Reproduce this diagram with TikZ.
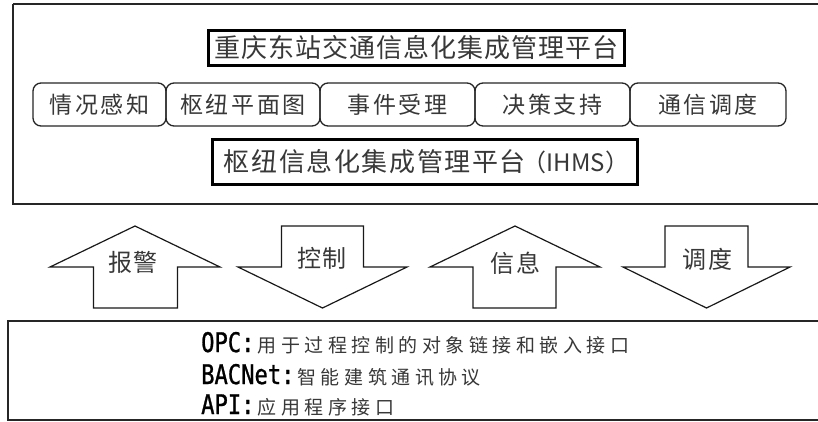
\documentclass[tikz,border=0pt]{standalone}
\usepackage{fontspec}
\newfontfamily\cjk{Noto Sans CJK SC}
\newfontfamily\monof{DejaVu Sans Mono}[FakeStretch=0.82,FakeBold=1]
\definecolor{txt}{gray}{0.22}
\makeatletter
\newcommand\spcd[2]{\@tfor\spcch:=#2\do{\spcch\kern#1}\unkern}
\makeatother
\begin{document}
\begin{tikzpicture}[x=1pt,y=-1pt,
  frame/.style={draw=black!85,line width=1.6pt},
  thickbox/.style={draw=black,line width=3pt,inner sep=0pt,text=txt},
  rowbox/.style={draw=black!85,line width=1.3pt,rounded corners=8pt,inner sep=0pt,
     minimum height=43pt,text=txt,font=\cjk\fontsize{23}{23}\selectfont},
  arrowline/.style={draw=black!90,line width=1.2pt},
  arrowlabel/.style={inner sep=0pt,text=txt,font=\cjk\fontsize{24}{24}\selectfont},
  codelabel/.style={anchor=base west,inner sep=0pt}]
\useasboundingbox (0,0) rectangle (818,421);
\fill[white] (0,0) rectangle (818,421);
% top frame
\draw[frame] (13,4) -- (830,4) (13,4) -- (13,204) -- (830,204);
\node[thickbox,minimum width=416pt,minimum height=35pt,
  font=\cjk\fontsize{26}{26}\selectfont] (title) at (416.5,47.5)
  {\spcd{1pt}{重庆东站交通信息化集成管理平台}};
\node[rowbox,minimum width=133pt] (r1) at (99.5,104.5) {\spcd{2.5pt}{情况感知}};
\node[rowbox,minimum width=154pt] (r2) at (243,104.5) {\spcd{2.5pt}{枢纽平面图}};
\node[rowbox,minimum width=155pt] (r3) at (397.5,104.5) {\spcd{2.5pt}{事件受理}};
\node[rowbox,minimum width=155pt] (r4) at (552.5,104.5) {\spcd{2.5pt}{决策支持}};
\node[rowbox,minimum width=156pt] (r5) at (708,104.5) {\spcd{2.5pt}{通信调度}};
\node[thickbox,minimum width=425pt,minimum height=45pt,
  font=\cjk\fontsize{26}{26}\selectfont] (ihms) at (424.5,161.5)
  {\spcd{1.6pt}{枢纽信息化集成管理平台}{\fontsize{24}{24}\selectfont\kern-3pt（IHMS）\kern-4pt}};
% arrows
\draw[arrowline] (135,226) -- (220,267) -- (177.5,267) -- (177.5,308)
  -- (93.5,308) -- (93.5,267) -- (50,267) -- cycle;
\node[arrowlabel] (a1) at (133,262) {\spcd{2pt}{报警}};
\draw[arrowline] (281.5,226) -- (363.5,226) -- (363.5,267) -- (407,267)
  -- (322.5,308) -- (238,267) -- (281.5,267) -- cycle;
\node[arrowlabel] (a2) at (322,258) {\spcd{2pt}{控制}};
\draw[arrowline] (515,226) -- (600,267) -- (556,267) -- (556,308)
  -- (473,308) -- (473,267) -- (430,267) -- cycle;
\node[arrowlabel] (a3) at (515,263) {\spcd{2pt}{信息}};
\draw[arrowline] (665,226) -- (748,226) -- (748,267) -- (790,267)
  -- (706.5,308) -- (623,267) -- (665,267) -- cycle;
\node[arrowlabel] (a4) at (707,259) {\spcd{2pt}{调度}};
% bottom frame
\draw[frame,line width=2pt] (830,321) -- (8,321) -- (8,420) -- (830,420);
\node[codelabel] (opc) at (201,352)
  {\monof\fontsize{27}{27}\selectfont OPC:\kern3pt\textcolor{txt}{\cjk\fontsize{19}{19}\selectfont\spcd{4.5pt}{用于过程控制的对象链接和嵌入接口}}};
\node[codelabel] (bac) at (201,384)
  {\monof\fontsize{27}{27}\selectfont BACNet:\kern3pt\textcolor{txt}{\cjk\fontsize{19}{19}\selectfont\spcd{4.5pt}{智能建筑通讯协议}}};
\node[codelabel] (api) at (201,414)
  {\monof\fontsize{27}{27}\selectfont API:\kern3pt\textcolor{txt}{\cjk\fontsize{19}{19}\selectfont\spcd{4.5pt}{应用程序接口}}};
\end{tikzpicture}
\end{document}
